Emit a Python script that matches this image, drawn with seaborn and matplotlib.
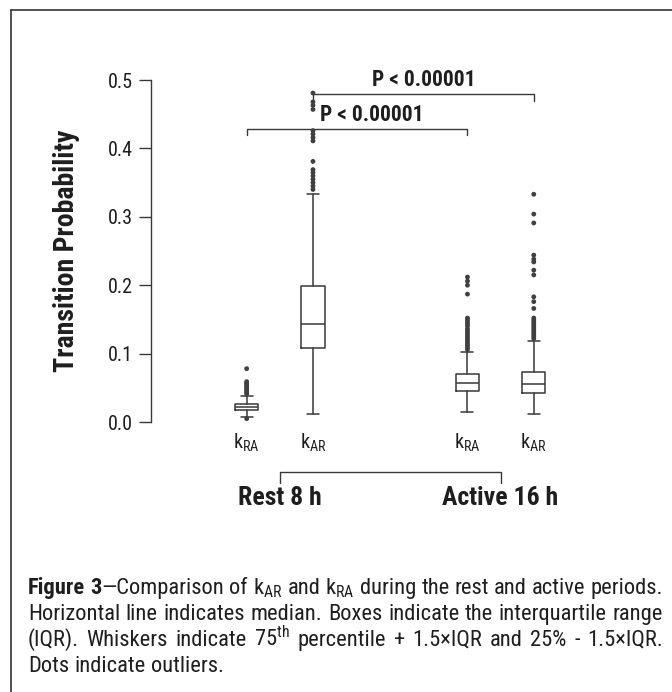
import numpy as np
import pandas as pd
import matplotlib
matplotlib.use("Agg")
import matplotlib.pyplot as plt
import seaborn as sns
from matplotlib.lines import Line2D
from matplotlib import font_manager as fm

# ---- data -------------------------------------------------------------
rate_labels = ["RA", "AR", "RA", "AR"]
positions = [1, 2, 4.33, 5.33]
group_names = ["Rest 8 h", "Active 16 h"]

medians = [0.022, 0.144, 0.057, 0.055]
q1 = [0.0175, 0.108, 0.045, 0.042]
q3 = [0.027, 0.199, 0.070, 0.0735]
whisker_low = [0.008, 0.012, 0.014, 0.011]
whisker_high = [0.038, 0.334, 0.103, 0.119]

outliers_rest_ra = [0.078, 0.059, 0.057, 0.055, 0.053, 0.051, 0.049, 0.047,
                    0.045, 0.043, 0.041, 0.005]
outliers_rest_ar = [0.481, 0.468, 0.463, 0.457, 0.426, 0.421, 0.416, 0.411,
                    0.381, 0.369, 0.365, 0.360, 0.355, 0.350, 0.345, 0.340]
outliers_active_ra = [0.212, 0.206, 0.200, 0.187, 0.152, 0.149, 0.146, 0.143,
                      0.140, 0.136, 0.133, 0.130, 0.127, 0.124, 0.121, 0.118,
                      0.115, 0.112, 0.109, 0.106]
outliers_active_ar = [0.333, 0.304, 0.291, 0.244, 0.238, 0.234, 0.222, 0.215,
                      0.183, 0.176, 0.166, 0.152, 0.149, 0.146, 0.143, 0.140,
                      0.137, 0.134, 0.131, 0.128, 0.125, 0.122]
outliers = [outliers_rest_ra, outliers_rest_ar, outliers_active_ra, outliers_active_ar]

y_ticks = [0.0, 0.1, 0.2, 0.3, 0.4, 0.5]
y_tick_labels = ["0.0", "0.1", "0.2", "0.3", "0.4", "0.5"]

# significance brackets: (left box index, right box index, level, label)
comparisons = [(0, 2, 0.429, "P < 0.00001"), (1, 3, 0.480, "P < 0.00001")]

caption_lines = [
    [[("Figure", "bold")], [("3", "bold"), ("\u2014Comparison", "normal")],
     [("of", "normal")], [(r"k$_{\mathrm{AR}}$", "normal")], [("and", "normal")],
     [(r"k$_{\mathrm{RA}}$", "normal")], [("during", "normal")], [("the", "normal")],
     [("rest", "normal")], [("and", "normal")], [("active", "normal")],
     [("periods.", "normal")]],
    [[(w, "normal")] for w in
     "Horizontal line indicates median. Boxes indicate the interquartile range".split()],
    [[(w, "normal")] for w in
     ["(IQR).", "Whiskers", "indicate", r"75$^{\mathrm{th}}$", "percentile", "+",
      "1.5\u00d7IQR", "and", "25%", "-", "1.5\u00d7IQR."]],
    [[(w, "normal")] for w in "Dots indicate outliers.".split()],
]

# ---- fonts: prefer a narrow sans face ---------------------------------
sns.set_style("ticks")
entries = fm.fontManager.ttflist
names = {f.name for f in entries}
family, stretch = "Liberation Sans", "normal"
for cand in ["Liberation Sans Narrow", "Arial Narrow", "Roboto Condensed",
             "Open Sans Condensed", "Noto Sans Condensed", "DejaVu Sans Condensed"]:
    if cand in names:
        family = cand
        break
else:
    for f in entries:
        if f.name in ("Roboto", "Noto Sans", "Open Sans", "DejaVu Sans") and \
                str(f.stretch) in ("condensed", "semi-condensed"):
            family, stretch = f.name, "condensed"
            break
if family not in names:
    family = "DejaVu Sans"
plt.rcParams["font.family"] = [family, "DejaVu Sans"]
plt.rcParams["font.stretch"] = stretch
plt.rcParams["mathtext.fontset"] = "custom"
plt.rcParams["mathtext.rm"] = family
plt.rcParams["mathtext.it"] = family
plt.rcParams["mathtext.bf"] = family + ":bold"

LINE = "#383838"
TEXT = "#1e1e1e"

W, H = 672, 692
fig = plt.figure(figsize=(W / 100, H / 100), dpi=100)
fig.patch.set_facecolor("white")
renderer = fig.canvas.get_renderer()


def text_width(txt, size, weight="normal"):
    t = fig.text(0, 0, txt, fontsize=size, fontweight=weight)
    w = t.get_window_extent(renderer).width
    t.remove()
    return w


size_tick = 14.5
size_k = 14.5
size_p = 15.5
size_group = 18.5
size_ylabel = 20 * 242 / text_width("Transition Probability", 20, "bold")

# caption text block and size: first line spans the block with plain spacing
cap_left, cap_right = 28, 663
line1_plain = "Figure 3\u2014Comparison of k$_{\\mathrm{AR}}$ and k$_{\\mathrm{RA}}$ during the rest and active periods."
size_cap = min(16.5, 20 * (cap_right - cap_left - 6) / text_width(line1_plain, 20))

# axes placed so that 0 -> y=422 px and 0.5 -> y=80 px
ax = fig.add_axes([151 / W, (H - 435.7) / H, 449 / W, 376.2 / H])

stats = [dict(med=m, q1=a, q3=b, whislo=lo, whishi=hi, fliers=[])
         for m, a, b, lo, hi in zip(medians, q1, q3, whisker_low, whisker_high)]
lw = 1.1
ax.bxp(stats, positions=positions, widths=0.35, capwidths=0.18,
       showfliers=False, patch_artist=False,
       boxprops=dict(color=LINE, linewidth=lw),
       whiskerprops=dict(color=LINE, linewidth=lw),
       capprops=dict(color=LINE, linewidth=lw),
       medianprops=dict(color=LINE, linewidth=lw))

flier_df = pd.DataFrame({
    "position": np.repeat(positions, [len(o) for o in outliers]),
    "value": np.concatenate(outliers),
})
sns.scatterplot(data=flier_df, x="position", y="value", ax=ax, color="#404040",
                s=12, edgecolor="none", legend=False, zorder=3)

ax.set_xlim(-0.443, 6.329)
ax.set_ylim(-0.02, 0.53)
ax.set_xticks([])
ax.set_xlabel("")
ax.set_yticks(y_ticks)
ax.set_yticklabels(y_tick_labels)
ax.tick_params(axis="y", direction="out", length=8.6, width=1.0, pad=4.5,
               labelsize=size_tick, colors=TEXT, color=LINE)
for side in ["top", "right", "bottom"]:
    ax.spines[side].set_visible(False)
ax.spines["left"].set_bounds(0, 0.5)
ax.spines["left"].set_color(LINE)
ax.spines["left"].set_linewidth(1.0)
ax.patch.set_visible(False)

ax.set_ylabel("Transition Probability", fontsize=size_ylabel, fontweight="bold",
              color=TEXT)
ax.yaxis.set_label_coords((80 - 151) / 449, 0.27 / 0.55)

# rate labels under each box
for x, lab in zip(positions, rate_labels):
    ax.text(x, -0.031, r"k$_{\mathrm{%s}}$" % lab, ha="center", va="center",
            fontsize=size_k, color=TEXT, clip_on=False)

# significance brackets; the lower label is nudged right, clear of the dots
label_shift = [0.22, 0.0]
for (i, j, level, lab), dx in zip(comparisons, label_shift):
    xa, xb = positions[i], positions[j]
    ax.plot([xa, xa, xb, xb], [level - 0.01, level, level, level - 0.01],
            color=LINE, lw=1.0, clip_on=False, zorder=2)
    ax.text((xa + xb) / 2 + dx, level + 0.004, lab, ha="center", va="bottom",
            fontsize=size_p, fontweight="bold", color=TEXT)

# period bracket below the rate labels
g1 = (positions[0] + positions[1]) / 2
g2 = (positions[2] + positions[3]) / 2
ax.plot([g1, g1, g2, g2], [-0.089, -0.0727, -0.0727, -0.089], color=LINE,
        lw=1.0, clip_on=False)
for gx, name in zip([g1, g2], group_names):
    ax.text(gx, -0.111, name, ha="center", va="center", fontsize=size_group,
            fontweight="bold", color=TEXT, clip_on=False)

# outer frame (left and top edges)
fig.add_artist(Line2D([11 / W, 11 / W], [0, 1 - 10 / H], transform=fig.transFigure,
                      color="#333333", lw=1.2))
fig.add_artist(Line2D([11 / W, 1], [1 - 10 / H, 1 - 10 / H], transform=fig.transFigure,
                      color="#333333", lw=1.2))

# justified caption
baselines = [594, 620, 646, 672]
space_px = text_width("a a", size_cap) - text_width("aa", size_cap)
for n, (words, yb) in enumerate(zip(caption_lines, baselines)):
    word_artists = []
    for word in words:
        pieces = []
        for txt, weight in word:
            t = fig.text(0, 1 - yb / H, txt, fontsize=size_cap, fontweight=weight,
                         color=TEXT, va="baseline", ha="left")
            pieces.append(t)
        word_artists.append(pieces)
    widths = [[p.get_window_extent(renderer).width for p in pieces]
              for pieces in word_artists]
    total = sum(sum(w) for w in widths)
    last = n == len(caption_lines) - 1
    gap = space_px if last else (cap_right - cap_left - total) / (len(words) - 1)
    gap = max(gap, 0.6 * space_px)
    x = cap_left
    for pieces, ws in zip(word_artists, widths):
        for p, w in zip(pieces, ws):
            p.set_x(x / W)
            x += w
        x += gap

fig.savefig("out.png", dpi=100, facecolor="white")
